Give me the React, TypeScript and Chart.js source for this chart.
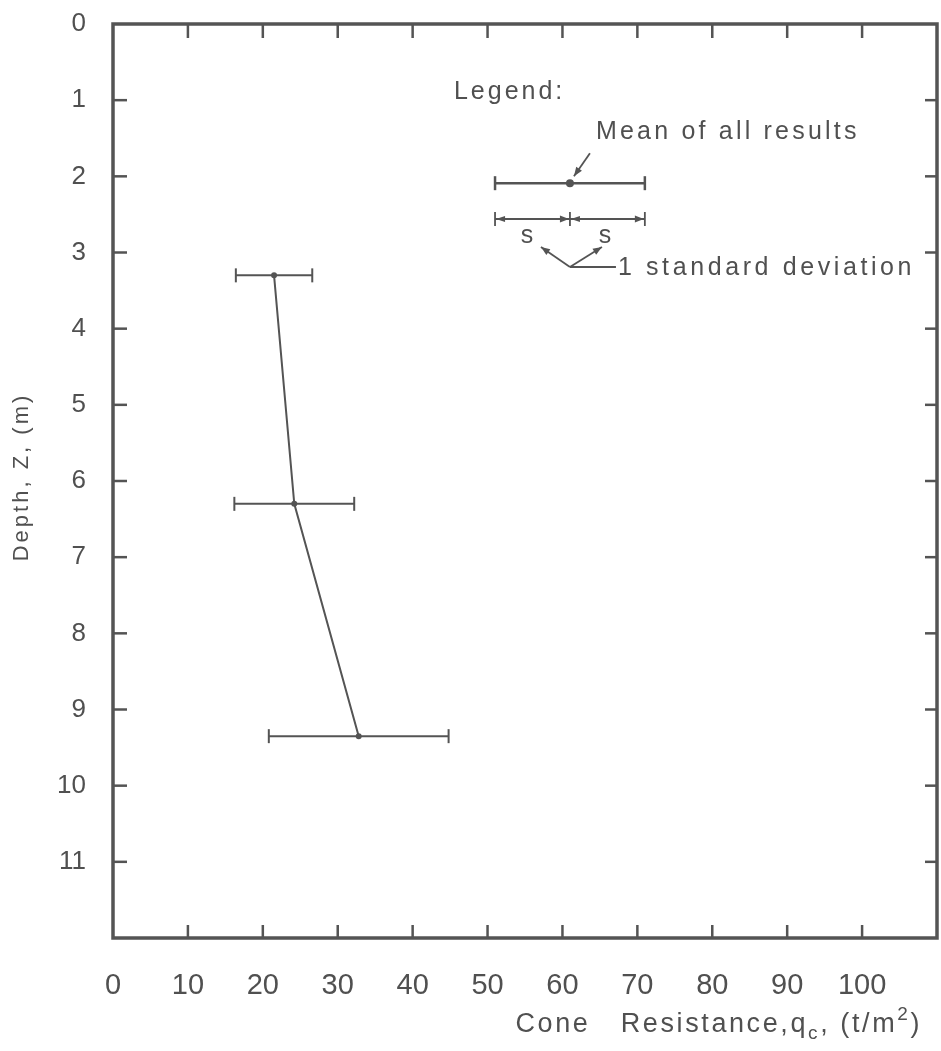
import React, { useEffect, useRef } from "react";
import { Chart, registerables } from "chart.js";

Chart.register(...registerables);

// ---- data ----
const depthM = [3.3, 6.3, 9.35];
const meanQc = [21.5, 24.2, 32.8];
const sdQc = [5.1, 8.0, 12.0];
const xTickValues = [0, 10, 20, 30, 40, 50, 60, 70, 80, 90, 100];
const yTickValues = [0, 1, 2, 3, 4, 5, 6, 7, 8, 9, 10, 11];
const xRange = [0, 110];
const yRange = [0, 12];
const legendMean = 61;
const legendSd = 10;
const legendRowDepths = [2.09, 2.56];

const INK = "#545454";
const TEXT = "#505050";
const SANS = "'Liberation Sans', Arial, sans-serif";

function seg(ctx: CanvasRenderingContext2D, x1: number, y1: number, x2: number, y2: number) {
  ctx.beginPath();
  ctx.moveTo(x1, y1);
  ctx.lineTo(x2, y2);
  ctx.stroke();
}

function head(ctx: CanvasRenderingContext2D, fx: number, fy: number, tx: number, ty: number, len: number, half: number) {
  const ang = Math.atan2(ty - fy, tx - fx);
  ctx.beginPath();
  ctx.moveTo(tx, ty);
  ctx.lineTo(tx - len * Math.cos(ang) + half * Math.sin(ang), ty - len * Math.sin(ang) - half * Math.cos(ang));
  ctx.lineTo(tx - len * Math.cos(ang) - half * Math.sin(ang), ty - len * Math.sin(ang) + half * Math.cos(ang));
  ctx.closePath();
  ctx.fill();
}

function arrow(ctx: CanvasRenderingContext2D, fx: number, fy: number, tx: number, ty: number) {
  seg(ctx, fx, fy, tx, ty);
  head(ctx, fx, fy, tx, ty, 9, 3.5);
}

function zeroPadding(s: any) {
  s.paddingTop = 0;
  s.paddingBottom = 0;
  s.paddingLeft = 0;
  s.paddingRight = 0;
}

const sketchPlugin = {
  id: "sketch",
  afterDatasetsDraw(chart: any) {
    const ctx: CanvasRenderingContext2D = chart.ctx;
    const a = chart.chartArea;
    const xs = chart.scales.x;
    const ys = chart.scales.y;
    ctx.save();
    ctx.strokeStyle = INK;
    ctx.fillStyle = INK;
    ctx.lineCap = "butt";

    // frame
    ctx.lineWidth = 3.5;
    ctx.strokeRect(a.left, a.top, a.right - a.left, a.bottom - a.top);

    // inward ticks
    ctx.lineWidth = 2.5;
    xTickValues.forEach((v) => {
      if (v === 0) return;
      const px = xs.getPixelForValue(v);
      seg(ctx, px, a.bottom, px, a.bottom - 13);
      seg(ctx, px, a.top, px, a.top + 14);
    });
    yTickValues.forEach((v) => {
      if (v === 0) return;
      const py = ys.getPixelForValue(v);
      seg(ctx, a.left, py, a.left + 14, py);
      seg(ctx, a.right, py, a.right - 12, py);
    });

    // error bars (± 1 standard deviation)
    ctx.lineWidth = 2;
    depthM.forEach((d, i) => {
      const py = ys.getPixelForValue(d);
      const x1 = xs.getPixelForValue(meanQc[i] - sdQc[i]);
      const x2 = xs.getPixelForValue(meanQc[i] + sdQc[i]);
      seg(ctx, x1, py, x2, py);
      seg(ctx, x1, py - 7, x1, py + 7);
      seg(ctx, x2, py - 7, x2, py + 7);
    });

    // ---- legend ----
    const lx1 = xs.getPixelForValue(legendMean - legendSd);
    const lxm = xs.getPixelForValue(legendMean);
    const lx2 = xs.getPixelForValue(legendMean + legendSd);
    const r1 = ys.getPixelForValue(legendRowDepths[0]);
    const r2 = ys.getPixelForValue(legendRowDepths[1]);

    ctx.lineWidth = 2.5;
    seg(ctx, lx1, r1, lx2, r1);
    seg(ctx, lx1, r1 - 7, lx1, r1 + 7);
    seg(ctx, lx2, r1 - 7, lx2, r1 + 7);
    ctx.beginPath();
    ctx.arc(lxm, r1, 4, 0, Math.PI * 2);
    ctx.fill();
    ctx.lineWidth = 1.8;
    arrow(ctx, lxm + 20, r1 - 30, lxm + 4, r1 - 7);

    ctx.lineWidth = 1.8;
    seg(ctx, lx1, r2, lx2, r2);
    seg(ctx, lx1, r2 - 7, lx1, r2 + 7);
    seg(ctx, lxm, r2 - 7, lxm, r2 + 7);
    seg(ctx, lx2, r2 - 7, lx2, r2 + 7);
    head(ctx, lx1 + 10, r2, lx1 + 1, r2, 9, 3);
    head(ctx, lxm - 10, r2, lxm - 1, r2, 9, 3.5);
    head(ctx, lxm + 10, r2, lxm + 1, r2, 9, 3);
    head(ctx, lx2 - 10, r2, lx2 - 1, r2, 9, 3.5);

    const rootX = lxm;
    const rootY = r2 + 48;
    arrow(ctx, rootX, rootY, lxm - 29, r2 + 28);
    arrow(ctx, rootX, rootY, lxm + 32, r2 + 28);
    seg(ctx, rootX, rootY, lxm + 46, rootY);

    ctx.fillStyle = TEXT;
    ctx.textBaseline = "middle";
    (ctx as any).letterSpacing = "0px";
    ctx.font = `25px ${SANS}`;
    ctx.textAlign = "center";
    ctx.fillText("s", lxm - 43, r2 + 17);
    ctx.fillText("s", lxm + 35, r2 + 17);

    ctx.textAlign = "left";
    (ctx as any).letterSpacing = "3.6px";
    ctx.font = `25px ${SANS}`;
    ctx.fillText("1 standard deviation", lxm + 48, rootY + 1);
    (ctx as any).letterSpacing = "3.2px";
    ctx.fillText("Mean of all results", lxm + 26, r1 - 51);
    (ctx as any).letterSpacing = "3px";
    ctx.fillText("Legend:", lxm - 116, r1 - 91);

    // ---- axis titles ----
    ctx.save();
    ctx.translate(22, (a.top + a.bottom) / 2 - 4);
    ctx.rotate(-Math.PI / 2);
    ctx.textAlign = "center";
    (ctx as any).letterSpacing = "3px";
    ctx.font = `22px ${SANS}`;
    ctx.fillText("Depth, Z, (m)", 0, 0);
    ctx.restore();

    const pieces = [
      { t: "Cone   Resistance,", s: 27, dy: 0 },
      { t: "q", s: 27, dy: 0 },
      { t: "c", s: 19, dy: 9 },
      { t: ", (t/m", s: 27, dy: 0 },
      { t: "2", s: 19, dy: -10 },
      { t: ")", s: 27, dy: 0 },
    ];
    (ctx as any).letterSpacing = "2.6px";
    let total = 0;
    const widths = pieces.map((p) => {
      ctx.font = `${p.s}px ${SANS}`;
      const w = ctx.measureText(p.t).width;
      total += w;
      return w;
    });
    let cx = 922 - total;
    const ty = 1025;
    ctx.textAlign = "left";
    pieces.forEach((p, i) => {
      ctx.font = `${p.s}px ${SANS}`;
      ctx.fillText(p.t, cx, ty + p.dy);
      cx += widths[i];
    });

    ctx.restore();
  },
};

export default function App() {
  const canvasRef = useRef<HTMLCanvasElement | null>(null);

  useEffect(() => {
    const canvas = canvasRef.current;
    if (!canvas) return;
    const chart = new Chart(canvas, {
      type: "scatter",
      data: {
        datasets: [
          {
            label: "Mean cone resistance",
            data: depthM.map((d, i) => ({ x: meanQc[i], y: d })),
            showLine: true,
            borderColor: INK,
            borderWidth: 2,
            pointRadius: 3,
            pointBackgroundColor: INK,
            pointBorderWidth: 0,
          },
        ],
      },
      options: {
        responsive: false,
        animation: false,
        devicePixelRatio: 1,
        events: [],
        layout: { padding: { top: 24, right: 1, left: 0, bottom: 0 } },
        plugins: {
          legend: { display: false },
          tooltip: { enabled: false },
          title: { display: false },
        },
        scales: {
          x: {
            type: "linear",
            position: "bottom",
            min: xRange[0],
            max: xRange[1],
            grid: { display: false, drawTicks: false },
            border: { display: false },
            ticks: {
              stepSize: 10,
              autoSkip: false,
              maxRotation: 0,
              padding: 31,
              color: TEXT,
              font: { size: 29, family: SANS },
              callback: (v: any) => (xTickValues.includes(Number(v)) ? String(v) : ""),
            },
            afterFit: (s: any) => {
              s.height = 113;
              zeroPadding(s);
            },
          },
          y: {
            type: "linear",
            reverse: true,
            min: yRange[0],
            max: yRange[1],
            grid: { display: false, drawTicks: false },
            border: { display: false },
            ticks: {
              stepSize: 1,
              autoSkip: false,
              padding: 27,
              color: TEXT,
              font: { size: 26, family: SANS },
              callback: (v: any) => (yTickValues.includes(Number(v)) ? String(v) : ""),
            },
            afterFit: (s: any) => {
              s.width = 113;
              zeroPadding(s);
            },
          },
        },
      },
      plugins: [sketchPlugin],
    } as any);
    return () => chart.destroy();
  }, []);

  return (
    <div style={{ position: "absolute", left: 0, top: 0, width: 941, height: 1051, background: "#fff" }}>
      <canvas ref={canvasRef} width={941} height={1051} style={{ display: "block" }} />
    </div>
  );
}
